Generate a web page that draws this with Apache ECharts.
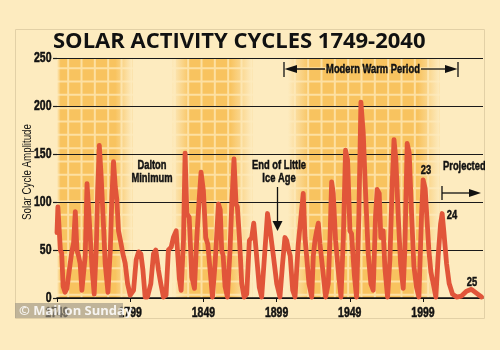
<!DOCTYPE html>
<html>
<head>
<meta charset="utf-8">
<script src="https://cdn.jsdelivr.net/npm/echarts@6/dist/echarts.min.js"></script>
<style>
html, body { margin: 0; padding: 0; background: #fdebbf; }
#main { width: 500px; height: 350px; }
</style>
</head>
<body>
<div id="main"></div>
<script>
// vertices of the amplitude curve (year, amplitude)
var years = [
    1749.0, 1749.6, 1750.7, 1751.3, 1752.2, 1753.2, 1754.5, 1755.8, 1756.9, 1758.0,
    1759.2, 1760.3, 1761.5, 1762.6, 1763.7, 1764.8, 1766.0, 1767.0, 1768.3, 1769.5,
    1770.6, 1771.7, 1772.9, 1774.4, 1775.8, 1776.8, 1777.9, 1779.2, 1780.8, 1781.9,
    1783.8, 1785.4, 1786.5, 1787.6, 1788.8, 1789.9, 1791.0, 1792.7, 1794.0, 1795.6,
    1797.2, 1799.0, 1801.3, 1803.1, 1804.7, 1806.3, 1807.7, 1809.2, 1810.8, 1813.1,
    1814.9, 1816.5, 1818.3, 1819.9, 1821.7, 1823.5, 1825.1, 1827.0, 1828.5, 1830.4,
    1831.5, 1832.6, 1833.8, 1835.4, 1836.5, 1837.7, 1839.3, 1841.1, 1842.9, 1844.5,
    1846.0, 1847.4, 1849.0, 1850.6, 1852.0, 1853.6, 1855.2, 1857.0, 1859.3, 1860.5,
    1861.5, 1862.5, 1863.8, 1865.4, 1867.2, 1868.4, 1869.9, 1871.3, 1872.2, 1873.6,
    1875.2, 1876.8, 1878.6, 1880.4, 1882.0, 1883.4, 1885.0, 1887.2, 1888.8, 1890.4,
    1892.8, 1894.6, 1896.8, 1899.1, 1901.3, 1903.1, 1904.7, 1905.9, 1907.2, 1908.3,
    1910.0, 1911.6, 1913.8, 1915.0, 1917.2, 1918.4, 1919.5, 1921.1, 1923.0, 1924.1,
    1925.2, 1926.4, 1927.5, 1928.6, 1929.8, 1930.9, 1932.5, 1934.3, 1935.5, 1936.6,
    1937.7, 1939.3, 1941.1, 1943.0, 1944.6, 1946.1, 1947.5, 1949.1, 1950.2, 1952.1,
    1953.6, 1955.2, 1956.6, 1958.2, 1959.8, 1961.6, 1963.4, 1965.0, 1966.6, 1967.7,
    1969.1, 1970.2, 1971.8, 1973.0, 1974.8, 1976.4, 1978.0, 1979.2, 1980.5, 1982.1,
    1983.7, 1985.5, 1986.6, 1988.2, 1989.6, 1991.2, 1992.8, 1994.6, 1996.2, 1998.0,
    1999.1, 2000.5, 2001.4, 2003.0, 2004.4, 2006.0, 2007.8, 2009.4, 2011.0, 2012.1,
    2013.2, 2015.1, 2016.9, 2019.2, 2021.9, 2025.3, 2028.7, 2032.1, 2035.5, 2039.0
];
var amplitude = [
    68, 95, 94, 50, 47, 12, 6, 10, 9, 36,
    49, 57, 90, 50, 44, 36, 8, 10, 44, 119,
    93, 92, 32, 4, 50, 113, 159, 126, 74, 36,
    6, 50, 105, 142, 116, 102, 70, 57, 46, 36,
    15, 3, 8, 40, 48, 46, 29, 1, 1, 15,
    46, 50, 29, 15, 1, 3, 50, 53, 63, 70,
    69, 20, 8, 60, 151, 88, 84, 22, 10, 63,
    100, 131, 112, 63, 56, 29, 1, 36, 98, 92,
    50, 44, 12, 1, 50, 98, 145, 98, 95, 63,
    15, 1, 4, 60, 63, 78, 50, 11, 1, 36,
    88, 70, 44, 15, 1, 36, 63, 60, 50, 44,
    8, 1, 56, 58, 109, 63, 44, 15, 1, 44,
    60, 70, 78, 57, 56, 24, 1, 15, 63, 121,
    109, 60, 29, 1, 63, 154, 144, 70, 67, 24,
    1, 85, 204, 172, 109, 46, 15, 8, 86, 113,
    109, 63, 70, 31, 1, 40, 119, 165, 144, 85,
    36, 10, 50, 161, 151, 88, 33, 11, 1, 85,
    123, 114, 116, 50, 27, 15, 1, 44, 77, 88,
    70, 36, 15, 4, 1, 2, 7, 9, 5, 1
];
var tickYears = [1749, 1799, 1849, 1899, 1949, 1999];
var yTicks = [0, 50, 100, 150, 200, 250];
// shaded periods of high activity: [start, solid from, solid to, end]
var activeSpans = [
    [1749, 1751.5, 1788.8, 1800.4],
    [1827.6, 1840, 1867.3, 1882.3],
    [1906.8, 1921.8, 1995.5, 2010.5]
];

var cream = 'rgba(253,235,191,1)';
var creamClear = 'rgba(253,235,191,0)';
var sans = '"Liberation Sans", Arial, sans-serif';

// orange squares with light grid lines
var pat = document.createElement('canvas');
pat.width = 40; pat.height = 40;
var pc = pat.getContext('2d');
pc.fillStyle = '#f8c35f';
pc.fillRect(0, 0, 40, 40);
pc.strokeStyle = '#fde0a2';
pc.lineWidth = 2;
for (var i = 0; i < 3; i++) {
    var p = i * 40 / 3 + 1.5;
    pc.beginPath(); pc.moveTo(p, 0); pc.lineTo(p, 40); pc.stroke();
    pc.beginPath(); pc.moveTo(0, p); pc.lineTo(40, p); pc.stroke();
}

var curve = years.map(function (y, i) { return [y, amplitude[i]]; });

function fade(a, b, inward) {
    return [{
        xAxis: a, yAxis: 0,
        itemStyle: {
            color: {
                type: 'linear', x: 0, y: 0, x2: 1, y2: 0,
                colorStops: inward
                    ? [{offset: 0, color: cream}, {offset: 1, color: creamClear}]
                    : [{offset: 0, color: creamClear}, {offset: 1, color: cream}]
            }
        }
    }, {xAxis: b, yAxis: 250}];
}

var areas = [];
activeSpans.forEach(function (s) {
    areas.push([{xAxis: s[0], yAxis: 0, itemStyle: {color: {image: pat, repeat: 'repeat'}}}, {xAxis: s[3], yAxis: 250}]);
});
activeSpans.forEach(function (s) {
    areas.push(fade(s[0], s[1], true));
    areas.push(fade(s[2], s[3], false));
});

var myChart = echarts.init(document.getElementById('main'));

var option = {
    backgroundColor: '#fdebbf',
    animation: false,
    grid: {left: 57, right: 17, top: 58, bottom: 52},
    xAxis: {
        type: 'value',
        min: 1749,
        max: 2040,
        z: 3,
        splitLine: {show: false},
        axisLine: {lineStyle: {color: '#111', width: 1.5}},
        axisTick: {customValues: tickYears, length: 4, lineStyle: {color: '#111'}},
        axisLabel: {show: false}
    },
    yAxis: {
        type: 'value',
        min: 0,
        max: 250,
        interval: 50,
        z: 3,
        axisLine: {show: false},
        axisTick: {show: true, length: 4, lineStyle: {color: '#1a1a1a', width: 1.2}},
        splitLine: {lineStyle: {color: '#1a1a1a', width: 1.2}},
        axisLabel: {show: false}
    },
    series: [
        {
            // carries the shaded background periods
            type: 'line',
            z: 1,
            silent: true,
            showSymbol: false,
            data: curve,
            lineStyle: {opacity: 0},
            markArea: {silent: true, data: areas}
        },
        {
            type: 'line',
            z: 5,
            data: curve,
            showSymbol: false,
            lineStyle: {color: '#e1553a', width: 4.8, cap: 'round', join: 'round'}
        }
    ]
};

myChart.setOption(option);

// condensed heavy lettering, as in the original artwork
function label(text, x, y, size, align, sx) {
    return {
        type: 'text', x: x, y: y, z: 20, scaleX: sx || 0.72,
        style: {
            text: text, fill: '#111', stroke: '#111', lineWidth: 0.5,
            font: 'bold ' + (size || 13) + 'px ' + sans,
            textAlign: align || 'center', textVerticalAlign: 'middle'
        }
    };
}
function seg(x1, y1, x2, y2) {
    return {type: 'line', z: 20, shape: {x1: x1, y1: y1, x2: x2, y2: y2}, style: {stroke: '#111', lineWidth: 1.3}};
}
function head(points) {
    return {type: 'polygon', z: 20, shape: {points: points}, style: {fill: '#111'}};
}

var graphics = [
    {type: 'rect', z: 0, shape: {x: 15.5, y: 29.5, width: 469, height: 289},
        style: {fill: 'none', stroke: '#e2d0a6', lineWidth: 1}},
    {type: 'text', x: 53, y: 42, z: 20,
        style: {text: 'SOLAR ACTIVITY CYCLES 1749-2040', fill: '#111',
            font: 'bold 22px "Open Sans", sans-serif', textVerticalAlign: 'middle'}},
    {type: 'text', x: 27, y: 172, z: 20, rotation: Math.PI / 2, scaleX: 0.75,
        style: {text: 'Solar Cycle Amplitude', fill: '#111', font: '13px ' + sans,
            textAlign: 'center', textVerticalAlign: 'middle'}},
    label('Dalton', 152, 165), label('Minimum', 152, 178),
    label('End of Little', 279, 165), label('Ice Age', 279, 178),
    seg(277.5, 187, 277.5, 224), head([[272.5, 221], [282.5, 221], [277.5, 231]]),
    label('Modern Warm Period', 373, 69),
    seg(284, 62, 284, 77), seg(290, 69, 325, 69), head([[284.5, 69], [297, 65], [297, 73]]),
    seg(421, 69, 450, 69), head([[457.5, 69], [445, 65], [445, 73]]), seg(458, 62, 458, 77),
    label('Projected', 443, 166, 13, 'left'),
    seg(442, 186, 442, 200), seg(442, 193, 472, 193), head([[481, 193], [469, 189], [469, 197]]),
    label('23', 426, 170), label('24', 452, 215), label('25', 472, 282),
    {type: 'rect', z: 21, shape: {x: 485, y: 28, width: 15, height: 295}, style: {fill: '#fdebbf'}}
];

// axis tick labels placed through the chart's own scales
tickYears.forEach(function (yr) {
    var pt = myChart.convertToPixel({gridIndex: 0}, [yr, 0]);
    graphics.push(label(String(yr), pt[0], 313, 14, 'center', 0.75));
});
yTicks.forEach(function (v) {
    var pt = myChart.convertToPixel({gridIndex: 0}, [1749, v]);
    graphics.push(label(String(v), 51.5, pt[1], 14, 'right', 0.75));
});

graphics.push(
    {type: 'rect', z: 22, shape: {x: 15, y: 303, width: 108, height: 15},
        style: {fill: 'rgba(160,150,132,0.65)'}},
    {type: 'text', x: 19, y: 311, z: 23,
        style: {text: '\u00a9 Mail on Sunday', fill: 'rgba(255,255,255,0.85)',
            font: 'bold 13px "Open Sans", sans-serif', textVerticalAlign: 'middle'}}
);

myChart.setOption({graphic: graphics});
</script>
</body>
</html>
